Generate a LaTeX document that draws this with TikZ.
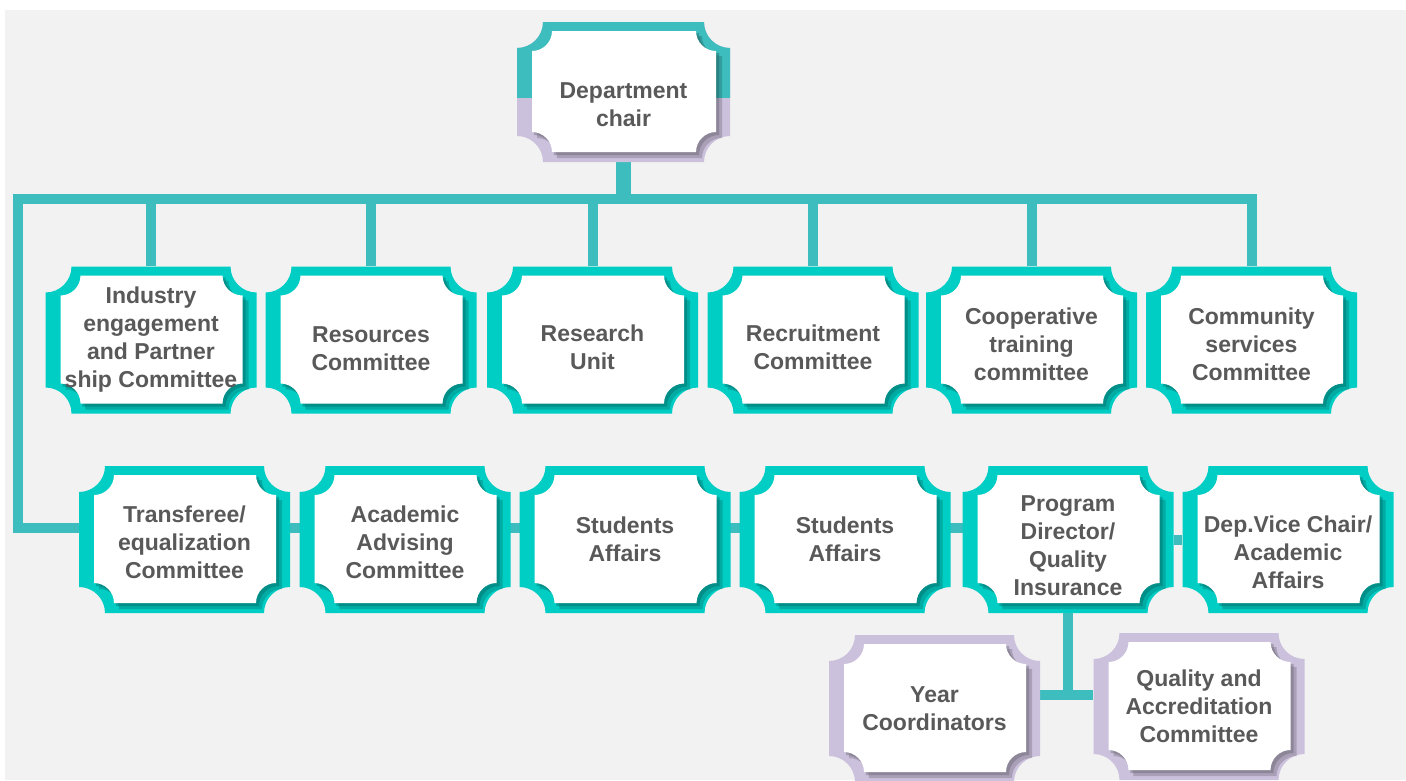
\documentclass[tikz,border=0pt]{standalone}
\usepackage{fontspec}
\setmainfont{Liberation Sans}
\usetikzlibrary{calc}

\definecolor{pagegrey}{HTML}{F2F2F2}
\definecolor{linkteal}{HTML}{3DBDBD}
\definecolor{frameteal}{HTML}{00CEC4}
\definecolor{framelav}{HTML}{CBC1DC}
\definecolor{labelgrey}{HTML}{595959}

\pgfdeclarelayer{back}
\pgfdeclarelayer{links}
\pgfsetlayers{back,links,main}

% rectangle with concave quarter-circle corners: left, top, right, bottom, radius
\newcommand\plq[5]{({#1+#5},{#2}) -- ({#3-#5},{#2}) arc[start angle=180,end angle=270,radius=#5]
  -- ({#3},{#4+#5}) arc[start angle=90,end angle=180,radius=#5]
  -- ({#1+#5},{#4}) arc[start angle=0,end angle=90,radius=#5]
  -- ({#1},{#2-#5}) arc[start angle=270,end angle=360,radius=#5] -- cycle}

% coloured frame, soft inner shadow and white panel of a box
\newcommand\plaquebody[2]{%
  \path[fill=#1] let \p1=(path picture bounding box.north west), \p2=(path picture bounding box.south east) in
    \plq{\x1}{\y1}{\x2}{\y2}{26pt};
  \path[fill=#2,opacity=.3] let \p1=(path picture bounding box.north west), \p2=(path picture bounding box.south east) in
    \plq{\x1+20pt}{\y1-14pt}{\x2-8pt}{\y2+4pt}{20pt};
  \path[fill=#2,opacity=.35] let \p1=(path picture bounding box.north west), \p2=(path picture bounding box.south east) in
    \plq{\x1+17pt}{\y1-11pt}{\x2-11pt}{\y2+7pt}{20pt};
  \path[fill=white] let \p1=(path picture bounding box.north west), \p2=(path picture bounding box.south east) in
    \plq{\x1+15pt}{\y1-9pt}{\x2-14pt}{\y2+10pt}{20pt};
}

% lowers a label by the given amount (a tall invisible strut on its first line)
\newcommand\drop[1]{\rule{0pt}{\dimexpr17pt+#1*2\relax}}

\tikzset{
  unitbox/.style={minimum width=211pt, minimum height=147pt, inner sep=0pt, align=center,
    text=labelgrey, font=\bfseries\fontsize{23pt}{28pt}\selectfont,
    path picture={\plaquebody{frameteal}{frameteal!45!black}}},
  lavbox/.style={unitbox, path picture={\plaquebody{framelav}{framelav!45!black}}},
  chairbox/.style={unitbox, minimum width=213pt, minimum height=140pt,
    path picture={\plaquebody{framelav}{framelav!45!black}
      \begin{scope}
        \clip (path picture bounding box.north west) rectangle ([yshift=-5pt]path picture bounding box.east);
        \plaquebody{linkteal}{linkteal!45!black}
      \end{scope}}},
  link/.style={draw=linkteal, line width=10pt},
}

\begin{document}
\begin{tikzpicture}[x=1pt, y=-1pt]
\useasboundingbox (0,0) rectangle (1406,780);

\begin{pgfonlayer}{back}
  \fill[white] (0,0) rectangle (1406,780);
  \fill[pagegrey] (5,10) rectangle (1406,780);
\end{pgfonlayer}

% head
\node[chairbox] (chair) at (623.5,92) {\drop{12pt}Department\\chair};

% first row of committees
\node[unitbox] (ind)  at (151,340)    {Industry\\engagement\\and Partner\\ship Committee};
\node[unitbox] (res)  at (371,340)    {\drop{8pt}Resources\\Committee};
\node[unitbox] (rsch) at (592.5,340)  {\drop{7pt}Research\\Unit};
\node[unitbox] (rec)  at (813,340)    {\drop{7pt}Recruitment\\Committee};
\node[unitbox] (coop) at (1031.5,340) {\drop{4pt}Cooperative\\training\\committee};
\node[unitbox] (comm) at (1251.5,340) {\drop{4pt}Community\\services\\Committee};

% second row
\node[unitbox] (trans) at (184.5,539.5) {\drop{3pt}Transferee/\\equalization\\Committee};
\node[unitbox] (adv)   at (405,539.5)   {\drop{3pt}Academic\\Advising\\Committee};
\node[unitbox] (stA)   at (625,539.5)   {Students\\Affairs};
\node[unitbox] (stB)   at (845,539.5)   {Students\\Affairs};
\node[unitbox] (prog)  at (1068,539.5)  {\drop{6pt}Program\\Director/\\Quality\\Insurance};
\node[unitbox] (vice)  at (1288,539.5)  {\drop{13pt}Dep.Vice Chair/\\Academic\\Affairs};

% under the program director
\node[lavbox] (year) at (934.5,708.5) {Year\\Coordinators};
\node[lavbox] (qa)   at (1199,706.5)  {Quality and\\Accreditation\\Committee};

\begin{pgfonlayer}{links}
  \coordinate (busL) at (17.5,199);
  \coordinate (rowtwo) at (17.5,528);
  \coordinate (qj) at (1067,695);
  \draw[link, line width=15pt] (chair) -- (chair |- busL);
  \draw[link] (prog |- rowtwo) -- (rowtwo) -- (busL) -- (comm |- busL) -- (comm);
  \foreach \n in {ind,res,rsch,rec,coop}
    \draw[link] (\n) -- (\n |- busL);
  \draw[link] (prog) -- (vice);
  \draw[link] (prog) -- (prog |- qj);
  \draw[link] (year.east |- qj) -- (qa.west |- qj);
\end{pgfonlayer}
\end{tikzpicture}
\end{document}
